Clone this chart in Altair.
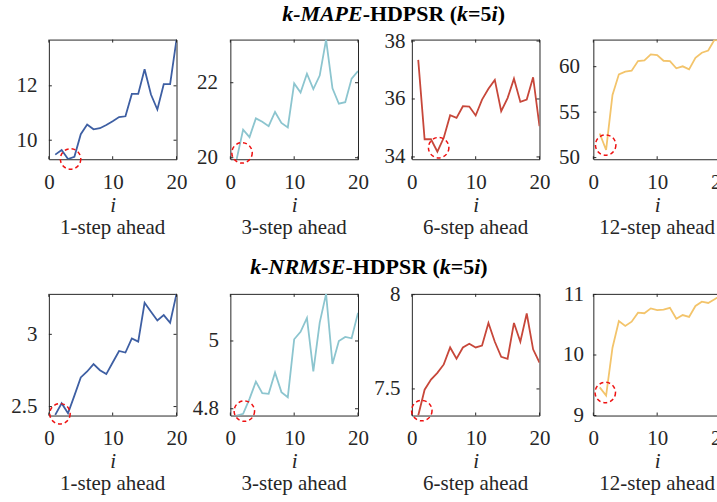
import altair as alt
import pandas as pd

# Window index i (k = 5i)
steps = list(range(1, 21))

# k-MAPE-HDPSR for each forecast horizon
mape_1 = [9.47, 9.64, 9.31, 9.39, 10.22, 10.58, 10.40, 10.44, 10.56, 10.70,
          10.85, 10.88, 11.70, 11.70, 12.61, 11.68, 11.13, 12.06, 12.06, 13.70]
mape_3 = [19.97, 20.75, 20.55, 21.05, 20.96, 20.84, 21.22, 20.93, 20.81, 21.98,
          21.74, 22.24, 21.83, 22.19, 23.15, 21.85, 21.44, 21.48, 22.11, 22.31]
mape_6 = [37.35, 34.61, 34.61, 34.18, 34.66, 35.44, 35.35, 35.75, 35.74, 35.43,
          35.98, 36.35, 36.66, 35.58, 36.03, 36.70, 35.90, 35.98, 36.75, 35.06]
mape_12 = [52.65, 50.84, 56.90, 59.16, 59.45, 59.56, 60.62, 60.69, 61.35, 61.27,
           60.65, 60.62, 59.82, 60.04, 59.71, 60.98, 61.53, 61.78, 62.98, 62.75]

# k-NRMSE-HDPSR for each forecast horizon
nrmse_1 = [2.443, 2.523, 2.454, 2.576, 2.702, 2.743, 2.794, 2.752, 2.725, 2.805,
           2.885, 2.874, 2.972, 2.950, 3.218, 3.156, 3.096, 3.133, 3.080, 3.280]
nrmse_3 = [4.780, 4.785, 4.829, 4.880, 4.846, 4.844, 4.907, 4.849, 4.834, 5.005,
           5.027, 5.068, 4.910, 5.054, 5.139, 4.932, 5.000, 5.012, 5.008, 5.083]
nrmse_6 = [7.359, 7.496, 7.550, 7.585, 7.630, 7.720, 7.660, 7.720, 7.740, 7.720,
           7.730, 7.850, 7.750, 7.670, 7.660, 7.850, 7.750, 7.900, 7.710, 7.640]
nrmse_12 = [9.465, 9.330, 10.12, 10.56, 10.48, 10.55, 10.70, 10.69, 10.77, 10.74,
            10.75, 10.78, 10.60, 10.66, 10.63, 10.81, 10.88, 10.86, 10.92, 10.99]

horizons = ["1-step ahead", "3-step ahead", "6-step ahead", "12-step ahead"]
colors = ["#3e5fa3", "#8cc5cf", "#c7473a", "#f3c46b"]

# y-axis ranges and tick values per panel
mape_domains = [[9.30, 13.70], [19.96, 23.15], [33.92, 38.05], [49.82, 62.98]]
mape_ticks = [[10, 12], [20, 22], [34, 36, 38], [50, 55, 60]]
nrmse_domains = [[2.438, 3.28], [4.78, 5.139], [7.359, 8.004], [9.0, 11.01]]
nrmse_ticks = [[2.5, 3], [4.8, 5], [7.5, 8], [9, 10, 11]]

# dashed rings marking the best window size (i, value)
mape_ring_i = [3.4, 1.83, 4.2, 1.93]
mape_ring_v = [9.31, 20.13, 34.32, 51.38]
nrmse_ring_i = [1.74, 2.19, 1.56, 1.87]
nrmse_ring_v = [2.45, 4.793, 7.385, 9.38]

x_ticks = [0, 10, 20]

FONT = "Liberation Serif"
INK = "#262626"
W = 128

# approximate advance widths (em) for the bold / bold-italic title runs
BOLD = {"-": .333, "H": .778, "D": .722, "P": .611, "S": .556, "R": .722,
        " ": .25, "(": .333, ")": .333, "=": .57, "5": .5}
BOLD_IT = {"k": .5, "-": .333, "M": .889, "A": .667, "P": .611, "E": .667,
           "N": .722, "R": .667, "S": .556, "i": .278}


def title_layers(metric, x0, y0, size=22):
    runs = [("k-" + metric, True), ("-HDPSR (", False), ("k", True),
            ("=5", False), ("i", True), (")", False)]
    layers = []
    x = x0
    for txt, ital in runs:
        table = BOLD_IT if ital else BOLD
        layers.append(
            alt.Chart(pd.DataFrame({"t": [txt]})).mark_text(
                font=FONT, fontSize=size, fontWeight="bold",
                fontStyle="italic" if ital else "normal",
                align="left", baseline="middle", color="#000000",
            ).encode(text="t:N", x=alt.value(x), y=alt.value(y0))
        )
        x += sum(table[c] for c in txt) * size
    return layers


def panel(vals, color, domain, yticks, ring_i, ring_v, subtitle, H, pad, extra=()):
    xs = alt.Scale(domain=[0, 20], nice=False)
    ys = alt.Scale(domain=domain, nice=False, zero=False)
    df = pd.DataFrame({"i": steps, "v": vals})
    line = alt.Chart(df).mark_line(color=color, strokeWidth=1.8, clip=True).encode(
        x=alt.X("i:Q", scale=xs,
                axis=alt.Axis(values=x_ticks, title="i", format="d",
                              labelPadding=12, titlePadding=2,
                              labelFlush=False, labelOverlap=False)),
        y=alt.Y("v:Q", scale=ys,
                axis=alt.Axis(values=yticks, title=None, format="~g",
                              labelPadding=pad, labelFlush=False,
                              labelOverlap=False)),
    )
    ring = alt.Chart(pd.DataFrame({"i": [ring_i], "v": [ring_v]})).mark_point(
        shape="circle", filled=False, color="#ee1111", strokeWidth=1.5,
        strokeDash=[4, 3], size=420, opacity=1,
    ).encode(x=alt.X("i:Q", scale=xs), y=alt.Y("v:Q", scale=ys))

    xt = pd.DataFrame({"i": x_ticks})
    yt = pd.DataFrame({"v": yticks})
    tick_style = dict(color=INK, strokeWidth=1)
    ticks = [
        alt.Chart(xt).mark_rule(**tick_style).encode(
            x=alt.X("i:Q", scale=xs), y=alt.value(H), y2=alt.value(H - 3)),
        alt.Chart(xt).mark_rule(**tick_style).encode(
            x=alt.X("i:Q", scale=xs), y=alt.value(0), y2=alt.value(3)),
        alt.Chart(yt).mark_rule(**tick_style).encode(
            y=alt.Y("v:Q", scale=ys), x=alt.value(0), x2=alt.value(3)),
        alt.Chart(yt).mark_rule(**tick_style).encode(
            y=alt.Y("v:Q", scale=ys), x=alt.value(W), x2=alt.value(W - 3)),
    ]
    return alt.layer(line, *ticks, ring, *extra).properties(
        width=W, height=H,
        title=alt.TitleParams(subtitle, orient="bottom", font=FONT, fontSize=21,
                              fontWeight="normal", color=INK, offset=2),
    )


mape_series = [mape_1, mape_3, mape_6, mape_12]
nrmse_series = [nrmse_1, nrmse_3, nrmse_6, nrmse_12]
mape_pads = [12, 13, 7, 14]
nrmse_pads = [12, 12, 12, 10]

panels = []
for k in range(4):
    extra_top = title_layers("MAPE", 234, -26) if k == 0 else ()
    panels.append(panel(mape_series[k], colors[k], mape_domains[k], mape_ticks[k],
                        mape_ring_i[k], mape_ring_v[k], horizons[k], 120,
                        mape_pads[k], extra_top))
for k in range(4):
    extra_bot = title_layers("NRMSE", 202, -27) if k == 0 else ()
    panels.append(panel(nrmse_series[k], colors[k], nrmse_domains[k], nrmse_ticks[k],
                        nrmse_ring_i[k], nrmse_ring_v[k], horizons[k], 122,
                        nrmse_pads[k], extra_bot))

# the right-hand column runs past the canvas edge, so trim it with a negative pad
chart = alt.concat(
    *panels, columns=4, bounds="flush",
    spacing=alt.RowColnumber(row=135, column=54),
).properties(
    padding={"left": 10, "top": 1, "right": -15, "bottom": 0},
    background="white",
).configure_view(
    stroke=INK, strokeWidth=1,
).configure_axis(
    domain=False, ticks=False, grid=False,
    labelFont=FONT, labelFontSize=21, labelColor=INK,
    titleFont=FONT, titleFontSize=21, titleColor=INK,
    titleFontStyle="italic", titleFontWeight="normal",
)

chart.save("out.html", embed_options={"renderer": "svg", "actions": False})
